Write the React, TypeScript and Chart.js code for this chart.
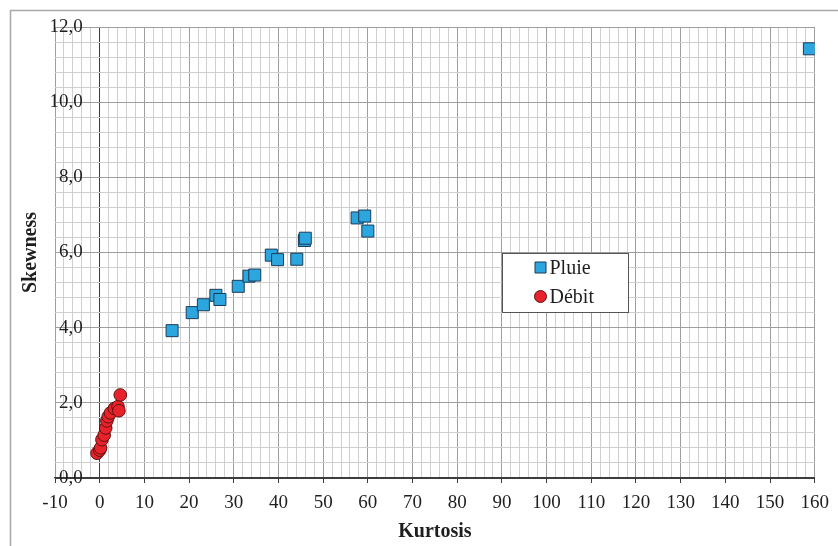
import React, { useEffect, useRef } from 'react';
import { Chart, registerables } from 'chart.js';

Chart.register(...registerables);

// ---- data ----
const seriesNames = ['Pluie', 'Débit'];

const pluieKurtosis = [16.2, 20.7, 23.2, 26.0, 26.9, 31.0, 33.4, 34.7, 38.4, 39.8, 44.1, 45.8, 46.0, 57.6, 59.3, 60.0, 158.8];
const pluieSkewness = [3.92, 4.40, 4.61, 4.86, 4.75, 5.10, 5.37, 5.40, 5.93, 5.81, 5.82, 6.32, 6.38, 6.92, 6.97, 6.57, 11.42];

const debitKurtosis = [-0.6, 0.0, 0.2, 0.5, 1.0, 1.35, 1.6, 1.9, 2.4, 3.3, 4.1, 4.3, 4.6];
const debitSkewness = [0.66, 0.74, 0.80, 1.02, 1.14, 1.33, 1.52, 1.63, 1.73, 1.85, 1.90, 1.79, 2.21];

const xTickLabels = ['-10', '0', '10', '20', '30', '40', '50', '60', '70', '80', '90', '100', '110', '120', '130', '140', '150', '160'];
const yTickLabels = ['0,0', '2,0', '4,0', '6,0', '8,0', '10,0', '12,0'];

const xTitle = 'Kurtosis';
const yTitle = 'Skewness';

// ---- styling ----
const FONT = '"Liberation Serif", "Times New Roman", serif';
const TEXT = '#1e1e1e';
const MINOR = '#cfcfcf';
const MAJOR = '#9e9e9e';
const AXIS = '#3c3c3c';
const BLUE = '#2ba6de';
const BLUE_BORDER = '#1d3b57';
const RED = '#e8222a';
const RED_BORDER = '#5c1212';

const isMult = (v: number, m: number) => Math.abs(v / m - Math.round(v / m)) < 1e-6;

const xLabelFor = (v: number) => {
  const s = String(Math.round(v));
  return isMult(v, 10) && xTickLabels.includes(s) ? s : '';
};
const yLabelFor = (v: number) => {
  const s = v.toFixed(1).replace('.', ',');
  return isMult(v, 2) && yTickLabels.includes(s) ? s : '';
};

const framePlugin = {
  id: 'frame',
  beforeDraw(chart: any) {
    const { ctx, width, height } = chart;
    ctx.save();
    ctx.fillStyle = '#ffffff';
    ctx.fillRect(0, 0, width, height);
    ctx.strokeStyle = '#a8a8a8';
    ctx.lineWidth = 1.5;
    ctx.beginPath();
    ctx.moveTo(10.5, height);
    ctx.lineTo(10.5, 10.5);
    ctx.lineTo(width, 10.5);
    ctx.stroke();
    ctx.restore();
  },
};

const legendPlugin = {
  id: 'boxLegend',
  afterDatasetsDraw(chart: any) {
    const { ctx } = chart;
    const left = 502.5;
    const top = 253.5;
    const w = 126;
    const h = 59;
    ctx.save();
    ctx.fillStyle = '#ffffff';
    ctx.fillRect(left, top, w, h);
    ctx.strokeStyle = '#555555';
    ctx.lineWidth = 1;
    ctx.strokeRect(left, top, w, h);
    const rows = [top + 14, top + 43];
    chart.data.datasets.forEach((ds: any, i: number) => {
      const cy = rows[i];
      const cx = left + 38;
      ctx.fillStyle = ds.backgroundColor;
      ctx.strokeStyle = ds.borderColor;
      ctx.lineWidth = 1;
      ctx.beginPath();
      if (ds.pointStyle === 'rect') {
        ctx.rect(cx - 5.5, cy - 5.5, 11, 11);
      } else {
        ctx.arc(cx, cy, 6, 0, Math.PI * 2);
      }
      ctx.fill();
      ctx.stroke();
      ctx.fillStyle = TEXT;
      ctx.font = `20px ${FONT}`;
      ctx.textBaseline = 'middle';
      ctx.textAlign = 'left';
      ctx.fillText(ds.label, cx + 9, cy + 1);
    });
    ctx.restore();
  },
};

export default function App() {
  const ref = useRef<HTMLCanvasElement | null>(null);

  useEffect(() => {
    document.body.style.margin = '0';
    if (!ref.current) return;
    const chart = new Chart(ref.current, {
      type: 'scatter',
      data: {
        datasets: [
          {
            label: seriesNames[0],
            data: pluieKurtosis.map((x, i) => ({ x, y: pluieSkewness[i] })),
            pointStyle: 'rect',
            pointRadius: 8.5,
            backgroundColor: BLUE,
            borderColor: BLUE_BORDER,
            borderWidth: 1,
          },
          {
            label: seriesNames[1],
            data: debitKurtosis.map((x, i) => ({ x, y: debitSkewness[i] })),
            pointStyle: 'circle',
            pointRadius: 6.3,
            backgroundColor: RED,
            borderColor: RED_BORDER,
            borderWidth: 1,
          },
        ],
      },
      options: {
        animation: false,
        responsive: false,
        devicePixelRatio: 1,
        layout: { padding: { left: 10, top: 27, right: 23, bottom: 0 } },
        plugins: {
          legend: { display: false },
          tooltip: { enabled: false },
        },
        scales: {
          x: {
            type: 'linear',
            position: 'bottom',
            min: -10,
            max: 160,
            afterFit: (s: any) => { s.height = 68; },
            ticks: {
              stepSize: 2,
              autoSkip: false,
              maxRotation: 0,
              minRotation: 0,
              padding: 9,
              color: TEXT,
              font: { family: FONT, size: 19 },
              callback: (v: any) => xLabelFor(Number(v)),
            },
            grid: {
              color: (c: any) => {
                const v = c.tick ? c.tick.value : NaN;
                if (v === 0) return AXIS;
                return isMult(v, 10) ? MAJOR : MINOR;
              },
              lineWidth: 1,
              drawTicks: true,
              tickLength: 5,
              tickColor: (c: any) => {
                const v = c.tick ? c.tick.value : NaN;
                return isMult(v, 10) ? AXIS : 'rgba(0,0,0,0)';
              },
            },
            border: { display: true, color: AXIS, width: 1.2 },
            title: {
              display: true,
              text: xTitle,
              color: TEXT,
              font: { family: FONT, size: 20, weight: 'bold', lineHeight: 1.2 },
              padding: { top: 0, bottom: 2 },
            },
          },
          y: {
            type: 'linear',
            position: 'left',
            min: 0,
            max: 12,
            afterFit: (s: any) => { s.width = 45; },
            ticks: {
              stepSize: 0.4,
              autoSkip: false,
              mirror: true,
              crossAlign: 'far',
              padding: -5.5,
              color: TEXT,
              font: { family: FONT, size: 19 },
              callback: (v: any) => yLabelFor(Number(v)),
            },
            grid: {
              color: (c: any) => {
                const v = c.tick ? c.tick.value : NaN;
                if (Math.abs(v) < 1e-9) return AXIS;
                return isMult(v, 2) ? MAJOR : MINOR;
              },
              lineWidth: 1,
              drawTicks: false,
            },
            border: { display: false },
            title: {
              display: true,
              text: yTitle,
              color: TEXT,
              font: { family: FONT, size: 20, weight: 'bold', lineHeight: 1.2 },
              padding: { top: 8.5, bottom: 0 },
            },
          },
        },
      } as any,
      plugins: [framePlugin, legendPlugin],
    });
    return () => chart.destroy();
  }, []);

  return (
    <div style={{ width: 838, height: 546, position: 'relative' }}>
      <canvas ref={ref} width={838} height={546} style={{ display: 'block' }} />
    </div>
  );
}
